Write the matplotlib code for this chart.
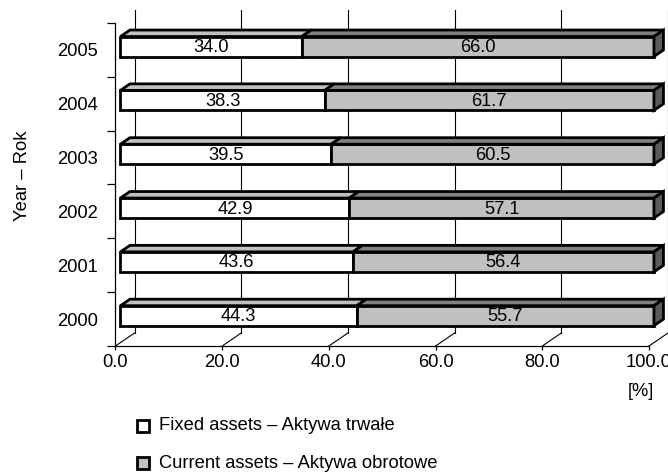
import matplotlib
matplotlib.use('Agg')
import matplotlib.pyplot as plt
from matplotlib.patches import Polygon, Rectangle
import numpy as np

plt.rcParams['font.family'] = ['Liberation Sans', 'DejaVu Sans']

# 数据
years = ['2000', '2001', '2002', '2003', '2004', '2005']
fixed_assets = [44.3, 43.6, 42.9, 39.5, 38.3, 34.0]
current_assets = [55.7, 56.4, 57.1, 60.5, 61.7, 66.0]
x_ticks = [0, 20, 40, 60, 80, 100]

W, H = 668, 476
fig = plt.figure(figsize=(W / 100, H / 100), dpi=100)
fs = 13.2

# 前平面像素位置
x0_px, x1_px = 115.5, 649
y_top_px, y_bot_px = 23, 346
ax = fig.add_axes([x0_px / W, 1 - y_bot_px / H, (x1_px - x0_px) / W, (y_bot_px - y_top_px) / H])
n = len(years)
ax.set_xlim(0, 100)
ax.set_ylim(0, n)

# 3D 深度（数据单位）
px_x = (x1_px - x0_px) / 100
px_y = (y_bot_px - y_top_px) / n
dxd = 19 / px_x
dyd = 13 / px_y
f0, f1 = 0.26, 0.76
bar_h = 20 / px_y

# 背墙网格线与地板斜线
for t in x_ticks:
    ax.plot([t + dxd, t + dxd], [dyd, n + dyd], color='black', lw=0.8, clip_on=False, zorder=1)
    ax.plot([t, t + dxd], [0, dyd], color='black', lw=0.8, clip_on=False, zorder=1)

face_colors = ['white', '#C0C0C0']
top_colors = ['#C0C0C0', '#808080']
side_color = '#5A5A5A'
lw = 2.0

for i in range(n):
    vals = [fixed_assets[i], current_assets[i]]
    yc = i + 0.5 + f0 * dyd
    left = 0.0
    ddx = (f1 - f0) * dxd
    ddy = (f1 - f0) * dyd
    for k, v in enumerate(vals):
        xl = left + f0 * dxd
        ax.barh(yc, v, left=xl, height=bar_h, color=face_colors[k], edgecolor='black',
                linewidth=lw, clip_on=False, zorder=3)
        ybt = yc + bar_h / 2
        top = Polygon([[xl, ybt], [xl + v, ybt], [xl + v + ddx, ybt + ddy], [xl + ddx, ybt + ddy]],
                      closed=True, facecolor=top_colors[k], edgecolor='black', lw=lw,
                      joinstyle='miter', clip_on=False, zorder=3)
        ax.add_patch(top)
        ax.text(xl + v / 2, yc - 0.02, f'{v:.1f}', ha='center', va='center', fontsize=fs, zorder=4)
        left += v
    # 侧面
    xr = left + f0 * dxd
    ybb = yc - bar_h / 2
    ybt = yc + bar_h / 2
    side = Polygon([[xr, ybb], [xr, ybt], [xr + ddx, ybt + ddy], [xr + ddx, ybb + ddy]],
                   closed=True, facecolor=side_color, edgecolor='black', lw=lw,
                   joinstyle='miter', clip_on=False, zorder=3)
    ax.add_patch(side)

# 坐标轴
ax.spines['top'].set_visible(False)
ax.spines['right'].set_visible(False)
ax.spines['left'].set_linewidth(0.9)
ax.spines['bottom'].set_linewidth(0.9)
ax.set_xticks(x_ticks)
ax.set_xticklabels([f'{t:.1f}' for t in x_ticks], fontsize=fs)
ax.tick_params(axis='x', direction='out', length=3, width=0.9, pad=3)
ax.set_yticks(np.arange(n + 1))
ax.set_yticklabels([])
ax.tick_params(axis='y', which='major', direction='out', length=6, width=0.9)
ax.set_yticks(np.arange(n) + 0.5, minor=True)
ax.set_yticklabels(years, minor=True, fontsize=fs)
ax.tick_params(axis='y', which='minor', length=0, pad=12.5)

fig.text(23 / W, 1 - 176 / H, 'Year – Rok', rotation=90, ha='center', va='center', fontsize=fs)
fig.text(641 / W, 1 - 392 / H, '[%]', ha='center', va='center', fontsize=fs)

# 图例
legend_items = [('Fixed assets – Aktywa trwałe', 'white', 426),
                ('Current assets – Aktywa obrotowe', '#C0C0C0', 463)]
for label, col, yy in legend_items:
    fig.patches.append(Rectangle((137 / W, 1 - (yy + 6) / H), 12 / W, 12 / H, transform=fig.transFigure,
                                 facecolor=col, edgecolor='black', lw=2.0))
    fig.text(159 / W, 1 - yy / H, label, ha='left', va='center', fontsize=fs)

fig.savefig('out.png', dpi=100)
